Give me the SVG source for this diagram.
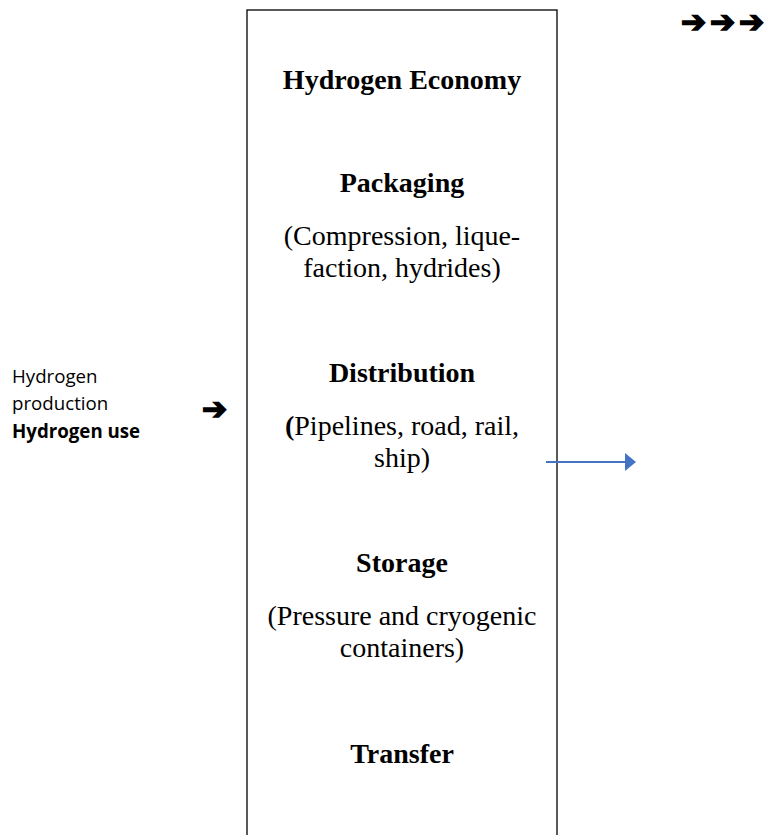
<svg xmlns="http://www.w3.org/2000/svg" width="766" height="835" viewBox="0 0 766 835">
  <style>
    .serif { font-family: "Liberation Serif", "Times New Roman", serif; font-size: 28px; fill: #000; text-anchor: middle; }
    .head { font-weight: bold; }
    .side { font-family: "Open Sans", "Liberation Sans", sans-serif; font-size: 18.7px; fill: #000; }
    .glyph { font-family: "DejaVu Sans", sans-serif; font-size: 30px; fill: #000; stroke: #000; stroke-width: 1.6; stroke-linejoin: miter; }
    .frame { fill: none; stroke: #000; stroke-width: 1.3; }
    .link { stroke: #4472C4; stroke-width: 2; fill: none; }
  </style>
  <defs>
    <marker id="arrowhead" markerUnits="userSpaceOnUse" markerWidth="12" markerHeight="20" refX="1" refY="10" orient="auto">
      <polygon points="0,1 11,10 0,19" fill="#4472C4"/>
    </marker>
  </defs>
  <rect width="766" height="835" fill="#fff"/>

  <!-- top-right row of arrows -->
  <g id="arrow-row">
    <text class="glyph" x="681 710 739" y="32">➔➔➔</text>
  </g>

  <!-- central column -->
  <g id="hydrogen-economy">
    <rect class="frame" x="247" y="10" width="310" height="840"/>
    <text class="serif head" x="402" y="89">Hydrogen Economy</text>
  </g>

  <g id="packaging">
    <text class="serif head" x="402" y="192">Packaging</text>
    <text class="serif" x="402" y="245">(Compression, lique-</text>
    <text class="serif" x="402" y="277">faction, hydrides)</text>
  </g>

  <g id="distribution">
    <text class="serif head" x="402" y="382">Distribution</text>
    <text class="serif" x="402" y="435"><tspan font-weight="bold">(</tspan>Pipelines, road, rail,</text>
    <text class="serif" x="402" y="467">ship)</text>
  </g>

  <g id="storage">
    <text class="serif head" x="402" y="572">Storage</text>
    <text class="serif" x="402" y="625">(Pressure and cryogenic</text>
    <text class="serif" x="402" y="657">containers)</text>
  </g>

  <g id="transfer">
    <text class="serif head" x="402" y="763">Transfer</text>
  </g>

  <!-- left-hand labels -->
  <g id="production-use">
    <text class="side" x="12" y="383">Hydrogen</text>
    <text class="side" x="12" y="410">production</text>
    <text class="side" x="12" y="438" font-weight="bold">Hydrogen use</text>
    <text class="glyph" x="202" y="419">➔</text>
  </g>

  <!-- connectors -->
  <g id="connectors">
    <line class="link" x1="546" y1="462" x2="626" y2="462" marker-end="url(#arrowhead)"/>
  </g>
</svg>
